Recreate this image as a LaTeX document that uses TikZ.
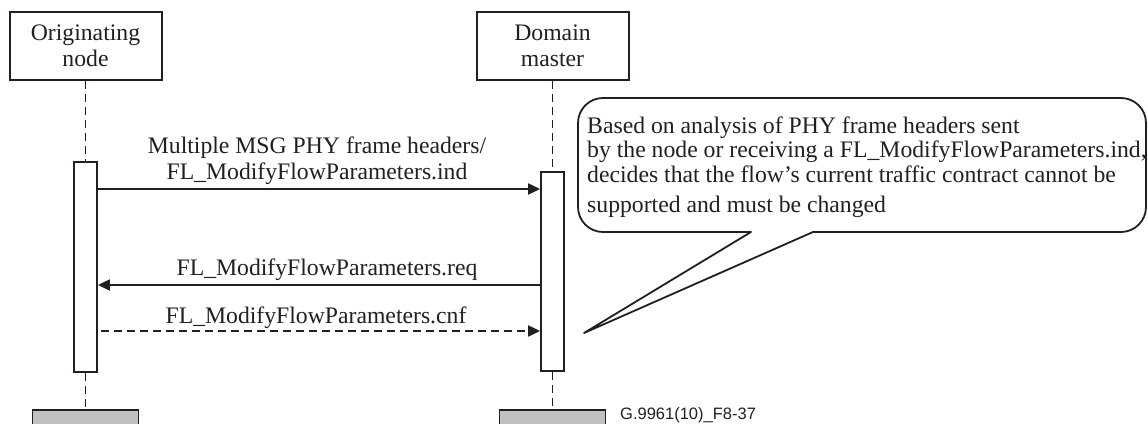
\documentclass[tikz,border=0pt]{standalone}
\usepackage{fontspec}
\setmainfont{Liberation Serif}
\setsansfont{Liberation Sans}
\usetikzlibrary{arrows.meta}
\definecolor{ink}{RGB}{35,31,32}
\definecolor{boxgray}{RGB}{192,192,192}
\begin{document}
\begin{tikzpicture}[x=1pt,y=-1pt,
  every node/.style={text=ink, font=\fontsize{23.7}{26}\selectfont},
  actor/.style={draw=ink, line width=2pt, minimum width=152pt, minimum height=68pt, align=center, inner sep=0pt},
  life/.style={draw=ink, line width=1.8pt, dash pattern=on 8pt off 5pt},
  actbox/.style={draw=ink, line width=1.8pt, fill=white, minimum width=23pt, inner sep=0pt},
  msg/.style={draw=ink, line width=2pt, -{Triangle[length=12pt,width=11pt]}},
  reply/.style={msg, dash pattern=on 8pt off 5pt},
  lbl/.style={anchor=base, inner sep=0pt},
  ctext/.style={anchor=base west, inner sep=0pt},
  endbox/.style={draw=ink, line width=1.8pt, fill=boxgray, minimum width=106pt, minimum height=30pt, inner sep=0pt, anchor=north},
  callout/.style={draw=ink, line width=1.8pt, line join=round}
]
\useasboundingbox (0,0) rectangle (1148,423);
\clip (0,0) rectangle (1148,423);

% actors
\node[actor] (orig) at (85.5,46) {Originating\\node};
\node[actor] (dm) at (552.5,46) {Domain\\master};

% activation boxes
\node[actbox, minimum height=210pt] (actL) at (85.5,267) {};
\node[actbox, minimum height=199pt] (actR) at (552.5,271.5) {};

% end boxes
\node[endbox] (endL) at (85.5,409) {};
\node[endbox] (endR) at (552.5,409) {};

% lifelines
\draw[life] (orig.south) -- (actL.north);
\draw[life] (actL.south) -- (endL.north);
\draw[life] (dm.south) -- (actR.north);
\draw[life] (actR.south) -- (endR.north);

% messages
\coordinate (m1) at (0,189);
\coordinate (m2) at (0,285);
\coordinate (m3) at (0,331);
\draw[msg] (actL.east |- m1) -- (actR.west |- m1);
\draw[msg] (actR.west |- m2) -- (actL.east |- m2);
\draw[reply] ([xshift=3pt]actL.east |- m3) -- (actR.west |- m3);

\node[lbl] (l1a) at (317,153) {Multiple MSG PHY frame headers/};
\node[lbl] (l1b) at (317,179) {FL\_ModifyFlowParameters.ind};
\node[lbl] (l2) at (327,275) {FL\_ModifyFlowParameters.req};
\node[lbl] (l3) at (316,323) {FL\_ModifyFlowParameters.cnf};

% callout
\coordinate (tip) at (584,333);
\draw[callout] (751,232) -- (603,232) arc[start angle=90, end angle=180, radius=25]
  -- (578,123) arc[start angle=180, end angle=270, radius=25]
  -- (1121,98) arc[start angle=270, end angle=360, radius=25]
  -- (1146,207) arc[start angle=0, end angle=90, radius=25]
  -- (813,232) -- (tip) -- cycle;
\node[ctext] (c1) at (587,133) {Based on analysis of PHY frame headers sent};
\node[ctext] (c2) at (587,157) {by the node or receiving a FL\_ModifyFlowParameters.ind,};
\node[ctext] (c3) at (587,182) {decides that the flow’s current traffic contract cannot be};
\node[ctext] (c4) at (587,212) {supported and must be changed};

% figure id
\node[anchor=base west, inner sep=0pt, font=\sffamily\fontsize{16.5}{18}\selectfont] (fid) at (620,419) {G.9961(10)\_F8-37};
\end{tikzpicture}
\end{document}
